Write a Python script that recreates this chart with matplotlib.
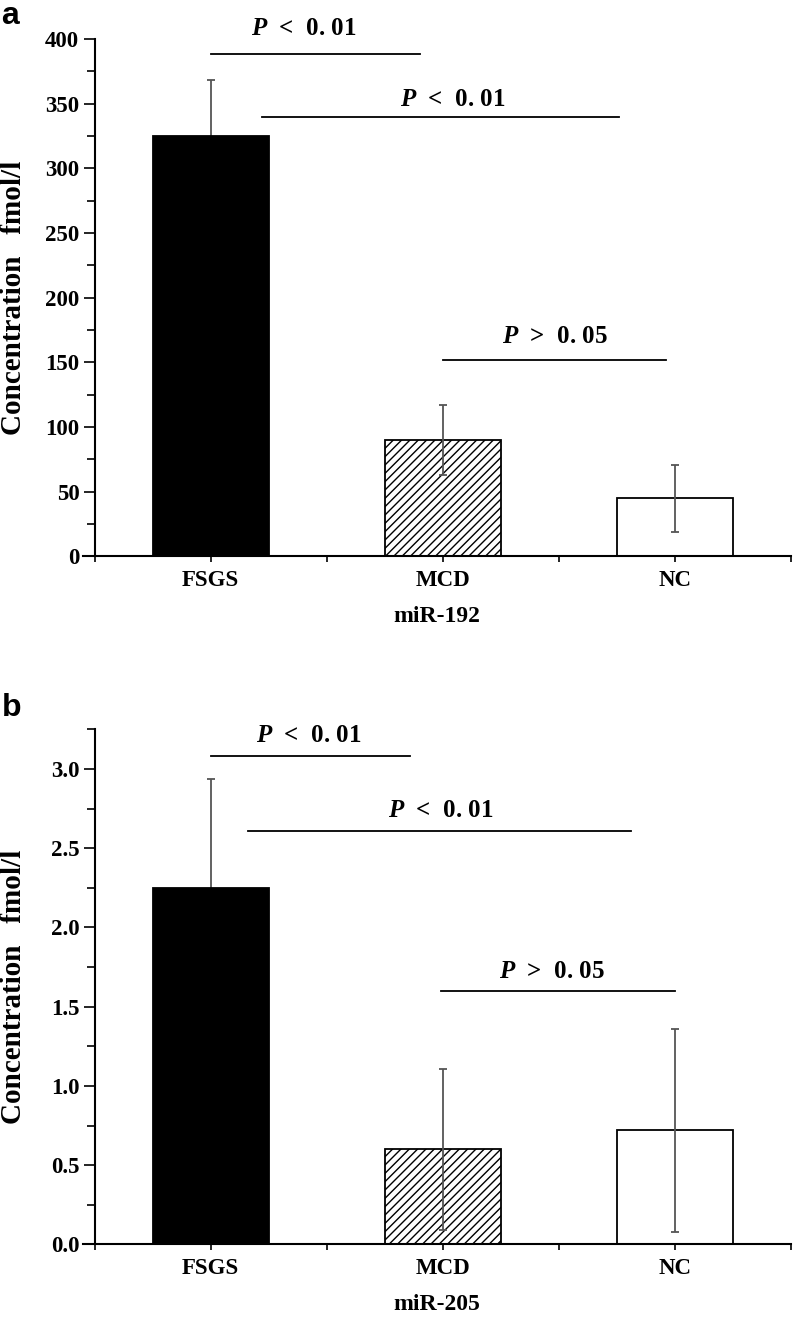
import numpy as np
import matplotlib.pyplot as plt
from matplotlib.ticker import MultipleLocator, FixedLocator

plt.rcParams['font.family'] = ['Liberation Serif', 'DejaVu Serif']
plt.rcParams['font.weight'] = 'bold'
plt.rcParams['mathtext.fontset'] = 'custom'
plt.rcParams['mathtext.it'] = 'Liberation Serif:italic:bold'
plt.rcParams['mathtext.rm'] = 'Liberation Serif:bold'
plt.rcParams['hatch.linewidth'] = 1.0

# data
groups = ['FSGS', 'MCD', 'NC']
mir192_mean = [325, 90, 45]
mir192_err = [43, 27, 26]
mir205_mean = [2.25, 0.60, 0.72]
mir205_err = [0.69, 0.51, 0.64]

# significance brackets: (x start, x end, y, sign, p, label x, label y)
sig192 = [(1.0, 1.90, 388, '<', 0.01, 1.40, 408),
          (1.22, 2.76, 340, '<', 0.01, 2.04, 353),
          (2.0, 2.96, 152, '>', 0.05, 2.48, 170)]
sig205 = [(1.0, 1.86, 3.08, '<', 0.01, 1.42, 3.21),
          (1.16, 2.81, 2.61, '<', 0.01, 1.99, 2.74),
          (1.99, 3.0, 1.60, '>', 0.05, 2.47, 1.72)]

fig = plt.figure(figsize=(7.93, 13.3), dpi=100)
ax1 = fig.add_axes([0.1047, 0.5816, 0.893, 0.3891])
ax2 = fig.add_axes([0.1047, 0.0643, 0.893, 0.3873])

x = np.arange(1, 4)
faces = ['black', 'white', 'white']
hatches = ['', '////', '']


def draw(ax, means, errs, sigs, ymax, major, minor, xlab, fmt):
    for i in range(3):
        ax.bar(x[i], means[i], width=0.5, color=faces[i], edgecolor='black',
               linewidth=1.3, hatch=hatches[i], zorder=2)
        # the black bar hides the lower half of its error bar
        ax.errorbar(x[i], means[i], yerr=errs[i], fmt='none', ecolor='#555555',
                    elinewidth=1.3, capsize=3, capthick=1.3,
                    zorder=1 if i == 0 else 3)
    for x0, x1, y, sym, p, tx, ty in sigs:
        ax.plot([x0, x1], [y, y], color='black', lw=1.3, clip_on=False)
        ax.text(tx, ty, r'$P$  %s  %s' % (sym, ('%.2f' % p).replace('.', '. ')),
                ha='center', va='center', fontsize=18, fontweight='bold')
    ax.set_xlim(0.45, 3.5)
    ax.set_ylim(0, ymax)
    ax.spines['top'].set_visible(False)
    ax.spines['right'].set_visible(False)
    ax.spines['left'].set_position(('data', 0.5))
    ax.spines['left'].set_bounds(0, ymax)
    for s in ('left', 'bottom'):
        ax.spines[s].set_linewidth(1.5)
    ax.yaxis.set_major_locator(MultipleLocator(major))
    ax.yaxis.set_minor_locator(MultipleLocator(minor))
    ax.yaxis.set_major_formatter(fmt)
    ax.set_xticks(x)
    ax.set_xticklabels(groups)
    ax.xaxis.set_minor_locator(FixedLocator([0.5, 1.5, 2.5, 3.5]))
    ax.tick_params(axis='y', which='major', length=8, width=1.2, labelsize=16.5, pad=3)
    ax.tick_params(axis='y', which='minor', length=5.5, width=1.2)
    ax.tick_params(axis='x', which='both', length=4.5, width=1.2, labelsize=16.5, pad=5)
    ax.set_xlabel(xlab, fontsize=17, fontweight='bold', labelpad=11)


draw(ax1, mir192_mean, mir192_err, sig192, 400, 50, 25, 'miR-192',
     lambda v, p: '%d' % v)
draw(ax2, mir205_mean, mir205_err, sig205, 3.25, 0.5, 0.25, 'miR-205',
     lambda v, p: '%.1f' % v)
ax2.set_yticks([0, 0.5, 1.0, 1.5, 2.0, 2.5, 3.0])

fig.text(0.017, 0.776, 'Concentration   fmol/l', rotation=90, ha='center',
         va='center', fontsize=21, fontweight='bold')
fig.text(0.017, 0.258, 'Concentration   fmol/l', rotation=90, ha='center',
         va='center', fontsize=21, fontweight='bold')
fig.text(0.002, 0.982, 'a', fontsize=23, fontweight='bold',
         family='Liberation Sans', va='baseline')
fig.text(0.002, 0.462, 'b', fontsize=23, fontweight='bold',
         family='Liberation Sans', va='baseline')

fig.savefig('out.png', dpi=100)
